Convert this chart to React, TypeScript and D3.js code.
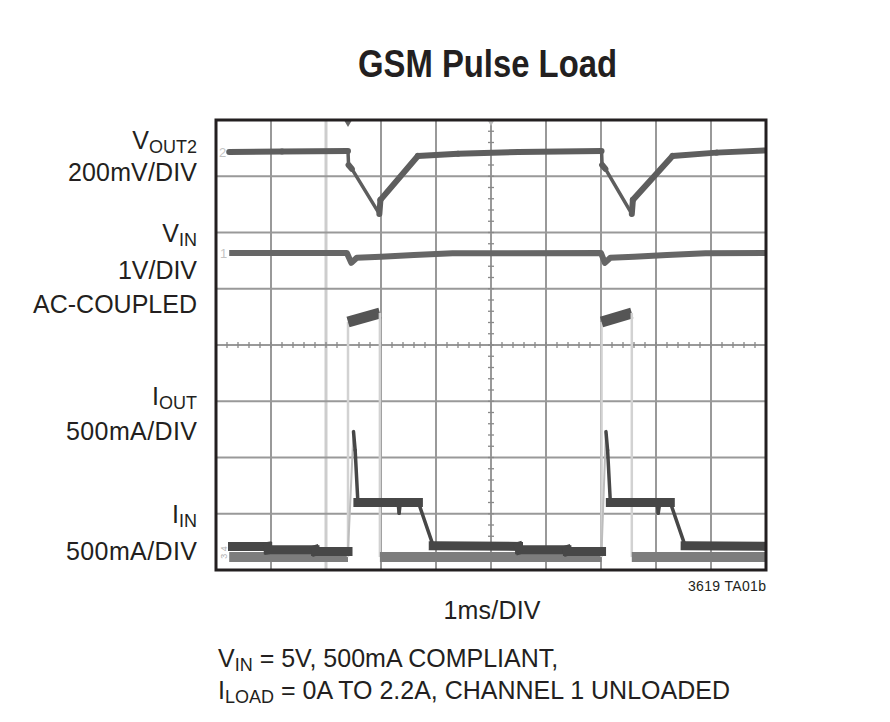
import React from "react";
import * as d3 from "d3";

const W = 890;
const H = 722;

const TITLE = "GSM Pulse Load";
const TIME_DIVS = d3.range(0, 11); // 10 divisions, 1ms/DIV
const AMP_DIVS = d3.range(0, 9); // 8 vertical divisions
const MINOR_STEP = 0.2;

// traces, [time (div), level (div from bottom)]
const VOUT2: [number, number][] = [
  [0.24, 7.43], [1.2, 7.44], [2.4, 7.45], [2.41, 7.2], [2.47, 7.13], [2.97, 6.33],
  [2.99, 6.58], [3.67, 7.36], [4.4, 7.4], [5.5, 7.43], [7.01, 7.45], [7.02, 7.2],
  [7.08, 7.13], [7.56, 6.33], [7.58, 6.58], [8.3, 7.36], [9.1, 7.42], [10, 7.46],
];

const VIN: [number, number][] = [
  [0.24, 5.635], [2.38, 5.635], [2.46, 5.46], [2.56, 5.55], [3.0, 5.57], [3.6, 5.6],
  [4.3, 5.63], [7.0, 5.635], [7.07, 5.46], [7.17, 5.55], [7.6, 5.57], [8.2, 5.6],
  [8.9, 5.63], [10, 5.635],
];

const IOUT: [number, number][] = [
  [0.24, 0.23], [2.4, 0.23], [2.4, 4.41], [2.98, 4.57], [2.98, 0.23],
  [7.01, 0.23], [7.01, 4.41], [7.56, 4.57], [7.56, 0.23], [10, 0.23],
];

const IIN: [number, number][] = [
  [0.3, 0.42], [0.94, 0.42], [0.95, 0.36], [1.8, 0.36], [1.81, 0.33], [2.4, 0.33],
  [2.5, 2.46], [2.53, 2.13], [2.58, 1.2], [3.31, 1.2], [3.33, 1.01], [3.35, 1.2],
  [3.68, 1.2], [3.95, 0.43], [5.5, 0.42], [5.52, 0.36], [6.38, 0.36], [6.39, 0.33],
  [7.01, 0.33], [7.09, 2.46], [7.12, 2.13], [7.17, 1.2], [8.02, 1.2], [8.04, 1.01],
  [8.07, 1.2], [8.26, 1.2], [8.53, 0.43], [10, 0.42],
];

const TIME_LABEL = "1ms/DIV";
const FIG_ID = "3619 TA01b";

const FONT = "'Liberation Sans Narrow', 'Arial Narrow', 'Liberation Sans', sans-serif";
const INK = "#231f20";

export default function App() {
  const x = d3.scaleLinear().domain([0, 10]).range([216, 766]);
  const y = d3.scaleLinear().domain([0, 8]).range([570, 120]);
  const line = d3.line<[number, number]>().x((d) => x(d[0])).y((d) => y(d[1]));

  const minorX = d3.range(0, 10 + 1e-6, MINOR_STEP);
  const minorY = d3.range(0, 8 + 1e-6, MINOR_STEP);

  const seg = (a: [number, number], b: [number, number]) =>
    `M${x(a[0])},${y(a[1])}L${x(b[0])},${y(b[1])}`;

  const labelStyle: React.CSSProperties = { fontFamily: FONT, fontSize: 25, fill: INK };

  const iinPairs = d3.pairs(IIN).map(([a, b]) => {
    const dyPx = y(a[1]) - y(b[1]);
    return { a, b, rising: dyPx > 30, flat: Math.abs(dyPx) < 5 };
  });

  return (
    <svg
      width={W}
      height={H}
      viewBox={`0 0 ${W} ${H}`}
      style={{ position: "absolute", left: 0, top: 0, background: "#fff" }}
    >
      <defs>
        <clipPath id="screen">
          <rect x={x(0)} y={y(8)} width={x(10) - x(0)} height={y(0) - y(8)} />
        </clipPath>
      </defs>
      <rect x={0} y={0} width={W} height={H} fill="#fff" />
      {/* title */}
      <text
        x={487.5}
        y={77}
        textAnchor="middle"
        textLength={259}
        lengthAdjust="spacingAndGlyphs"
        style={{ fontFamily: FONT, fontSize: 38, fontWeight: 700, fill: INK }}
      >
        {TITLE}
      </text>

      {/* grid */}
      <g>
        {TIME_DIVS.slice(1, -1).map((t) => (
          <line
            key={"vx" + t}
            x1={x(t)}
            x2={x(t)}
            y1={y(0)}
            y2={y(8)}
            stroke={t === 2 ? "#cdcdcd" : "#999"}
            strokeWidth={t === 2 ? 3 : 2}
          />
        ))}
        {AMP_DIVS.slice(1, -1).map((a) => (
          <line
            key={"hy" + a}
            x1={x(0)}
            x2={x(10)}
            y1={y(a)}
            y2={y(a)}
            stroke="#999"
            strokeWidth={2}
          />
        ))}
        {minorX.map((t) => (
          <line key={"mx" + t} x1={x(t)} x2={x(t)} y1={y(4) - 3} y2={y(4) + 3} stroke="#888" strokeWidth={1.3} />
        ))}
        {minorY.map((a) => (
          <line key={"my" + a} x1={x(5) - 3} x2={x(5) + 3} y1={y(a)} y2={y(a)} stroke="#888" strokeWidth={1.3} />
        ))}
      </g>

      {/* markers */}
      <text x={219} y={157} style={{ fontFamily: FONT, fontSize: 13, fill: "#c4c4c4" }}>2</text>
      <text x={220} y={258} style={{ fontFamily: FONT, fontSize: 13, fill: "#c4c4c4" }}>1</text>
      <text
        transform={`translate(227,${y(0.2)}) rotate(-90)`}
        style={{ fontFamily: FONT, fontSize: 9, fill: "#b0b0b0" }}
      >
        3 4
      </text>
      <path d={`M${x(2.4) - 3.5},${y(8) + 1}L${x(2.4) + 3.5},${y(8) + 1}L${x(2.4)},${y(8) + 7}Z`} fill="#666" />
      <path d={`M${x(5) - 3},${y(8) + 1}L${x(5) + 3},${y(8) + 1}L${x(5)},${y(8) + 6}Z`} fill="#bbb" />

      <g clipPath="url(#screen)">
        {/* I_OUT */}
        <g fill="none" strokeLinecap="butt">
          {d3.pairs(IOUT).map(([a, b], i) => {
            const vertical = a[0] === b[0];
            const high = a[1] > 2;
            return (
              <path
                key={"io" + i}
                d={seg(a, b)}
                stroke={vertical ? "#d2d2d2" : high ? "#555" : "#7d7d7d"}
                strokeWidth={vertical ? 2.5 : high ? 11 : 10}
              />
            );
          })}
        </g>

        {/* I_IN */}
        <g fill="none" strokeLinejoin="round">
          {iinPairs.map((p, i) => (
            <path
              key={"iil" + i}
              d={seg(p.a, p.b)}
              stroke={p.rising ? "#bdbdbd" : "#474747"}
              strokeWidth={p.rising ? 2 : 3.5}
              strokeLinecap="round"
            />
          ))}
          {iinPairs
            .filter((p) => p.flat)
            .map((p, i) => (
              <path
                key={"iif" + i}
                d={seg(p.a, p.b)}
                stroke="#474747"
                strokeWidth={9}
                strokeLinecap="square"
              />
            ))}
        </g>

        {/* V_IN */}
        <path d={line(VIN) ?? ""} fill="none" stroke="#666" strokeWidth={6} strokeLinejoin="round" />

        {/* V_OUT2 */}
        <g fill="none" strokeLinecap="round" strokeLinejoin="round">
          {d3.pairs(VOUT2).map(([a, b], i) => {
            const down = y(b[1]) - y(a[1]) > 8;
            return (
              <path key={"vo" + i} d={seg(a, b)} stroke="#5e5e5e" strokeWidth={down ? 3.5 : 6} />
            );
          })}
        </g>
      </g>

      {/* frame */}
      <rect x={x(0)} y={y(8)} width={x(10) - x(0)} height={y(0) - y(8)} fill="none" stroke={INK} strokeWidth={3} />

      {/* channel labels */}
      <g style={labelStyle} textAnchor="end">
        <text x={197} y={149}>
          V<tspan fontSize={18} dy={4}>OUT2</tspan>
        </text>
        <text x={197} y={181} textLength={129} lengthAdjust="spacing">200mV/DIV</text>
        <text x={197} y={242}>
          V<tspan fontSize={18} dy={4}>IN</tspan>
        </text>
        <text x={197} y={279} textLength={79} lengthAdjust="spacing">1V/DIV</text>
        <text x={197} y={313} textLength={164} lengthAdjust="spacing">AC-COUPLED</text>
        <text x={197} y={405}>
          I<tspan fontSize={18} dy={4}>OUT</tspan>
        </text>
        <text x={197} y={440} textLength={131} lengthAdjust="spacing">500mA/DIV</text>
        <text x={197} y={523}>
          I<tspan fontSize={18} dy={4}>IN</tspan>
        </text>
        <text x={197} y={560} textLength={131} lengthAdjust="spacing">500mA/DIV</text>
      </g>

      {/* bottom texts */}
      <text x={766} y={591} textAnchor="end" textLength={78} lengthAdjust="spacing"
        style={{ fontFamily: FONT, fontSize: 14, fill: INK }}>
        {FIG_ID}
      </text>
      <text x={492} y={619} textAnchor="middle" textLength={97} lengthAdjust="spacing" style={labelStyle}>
        {TIME_LABEL}
      </text>
      <text x={218} y={667} style={labelStyle}>
        V<tspan fontSize={18} dy={4}>IN</tspan>
        <tspan dy={-4}> = 5V, 500mA COMPLIANT,</tspan>
      </text>
      <text x={218} y={699} style={labelStyle}>
        I<tspan fontSize={18} dy={4}>LOAD</tspan>
        <tspan dy={-4}> = 0A TO 2.2A, CHANNEL 1 UNLOADED</tspan>
      </text>
    </svg>
  );
}
